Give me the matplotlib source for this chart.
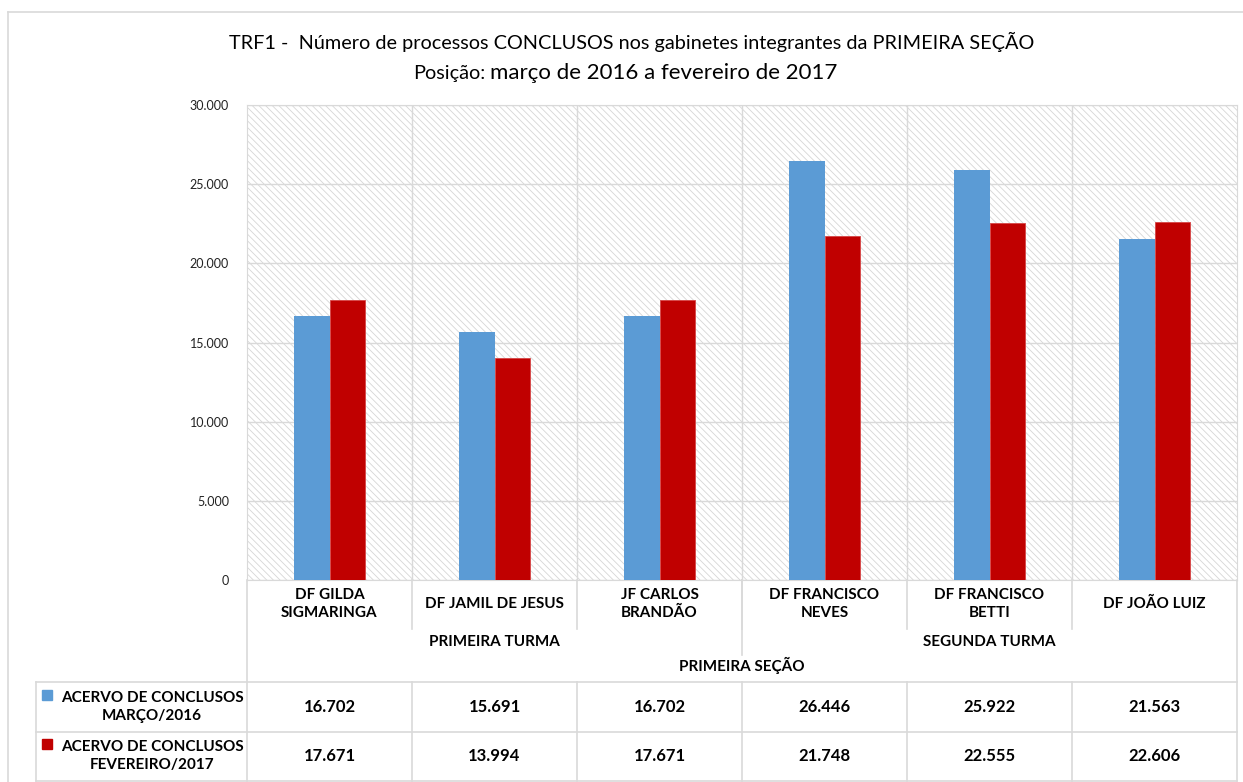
import numpy as np
import matplotlib
matplotlib.use("Agg")
import matplotlib.pyplot as plt
from matplotlib.patches import Rectangle
from matplotlib.lines import Line2D
from matplotlib.ticker import FuncFormatter

plt.rcParams['font.family'] = ['Lato', 'DejaVu Sans']
plt.rcParams['hatch.linewidth'] = 0.6
plt.rcParams['hatch.color'] = '#D6D6D6'

# dados
gabinetes = ["DF GILDA\nSIGMARINGA", "DF JAMIL DE JESUS", "JF CARLOS\nBRANDÃO",
             "DF FRANCISCO\nNEVES", "DF FRANCISCO\nBETTI", "DF JOÃO LUIZ"]
turmas = ["PRIMEIRA TURMA", "SEGUNDA TURMA"]
gabinetes_por_turma = [3, 3]
secao = "PRIMEIRA SEÇÃO"
serie_marco = "ACERVO DE CONCLUSOS\nMARÇO/2016"
serie_fev = "ACERVO DE CONCLUSOS\nFEVEREIRO/2017"
marco_2016 = [16702, 15691, 16702, 26446, 25922, 21563]
fev_2017 = [17671, 13994, 17671, 21748, 22555, 22606]

AZUL = '#5B9BD5'
VERMELHO = '#C00000'
CINZA = '#D9D9D9'

W, H = 1243, 782
fig = plt.figure(figsize=(W / 100, H / 100), dpi=100)

# area do grafico em pixels
x0, x1, ytop, ybase = 247, 1237, 105, 580
ax = fig.add_axes([x0 / W, 1 - ybase / H, (x1 - x0) / W, (ybase - ytop) / H])

def ya(py):
    # pixel vertical -> fracao do eixo
    return (ybase - py) / (ybase - ytop)

def fmt(v, pos=None):
    return f"{int(v):,}".replace(',', '.')

n = len(gabinetes)
x = np.arange(n)
larg = 0.215

ax.add_patch(Rectangle((0, 0), 1, 1, transform=ax.transAxes, facecolor='white',
                       edgecolor='#D6D6D6', linewidth=0, hatch='\\\\\\\\\\', zorder=0))
ax.bar(x - larg / 2, marco_2016, larg, color=AZUL, zorder=3)
ax.bar(x + larg / 2, fev_2017, larg, color=VERMELHO, edgecolor='#D64545',
       linewidth=0.6, zorder=3)

ax.set_xlim(-0.5, n - 0.5)
ax.set_ylim(0, 30000)
ax.set_yticks(np.arange(0, 30001, 5000))
ax.yaxis.set_major_formatter(FuncFormatter(fmt))
ax.tick_params(axis='y', length=0, pad=13, labelsize=9, labelcolor='#222222')
ax.set_xticks([])
ax.grid(axis='y', color=CINZA, linewidth=1, zorder=1)
ax.set_axisbelow(True)
for s in ax.spines.values():
    s.set_color(CINZA)
for i in range(1, n):
    ax.axvline(i - 0.5, color=CINZA, linewidth=1, zorder=1)

tr = ax.get_xaxis_transform()

def linha(xs, ys):
    ax.add_line(Line2D(xs, ys, transform=tr, color=CINZA, linewidth=1.2, clip_on=False))

# eixo de categorias em varios niveis
esq_tab = -0.5 - (x0 - 36) / 165
linha([-0.5, -0.5], [ya(580), ya(781)])
linha([n - 0.5, n - 0.5], [ya(580), ya(781)])
for i in range(1, n):
    linha([i - 0.5, i - 0.5], [ya(580), ya(629)])
for i, nome in enumerate(gabinetes):
    ax.text(i, ya(604), nome, transform=tr, ha='center', va='center',
            fontsize=11, fontweight='bold', linespacing=1.4)

ini = 0
for t, k in zip(turmas, gabinetes_por_turma):
    ax.text(ini + (k - 1) / 2, ya(642), t, transform=tr, ha='center', va='center',
            fontsize=11, fontweight='bold')
    ini += k
    if ini < n:
        linha([ini - 0.5, ini - 0.5], [ya(580), ya(655)])
ax.text((n - 1) / 2, ya(665), secao, transform=tr, ha='center', va='center',
        fontsize=11, fontweight='bold')

# tabela de dados
for py in (682, 732, 781):
    linha([esq_tab, n - 0.5], [ya(py), ya(py)])
linha([esq_tab, esq_tab], [ya(682), ya(781)])
for i in range(1, n):
    linha([i - 0.5, i - 0.5], [ya(682), ya(781)])

for py, nome, vals, cor in ((707, serie_marco, marco_2016, AZUL),
                            (756, serie_fev, fev_2017, VERMELHO)):
    for i, v in enumerate(vals):
        ax.text(i, ya(py), fmt(v), transform=tr, ha='center', va='center',
                fontsize=12, fontweight='bold')
    ax.text(-0.5 - (x0 - 152) / 165, ya(py), nome, transform=tr, ha='center',
            va='center', fontsize=11, fontweight='bold', linespacing=1.35)
    fig.patches.append(Rectangle((42 / W, 1 - (py - 7) / H), 10 / W, 10 / H,
                                 transform=fig.transFigure, color=cor))

# moldura do grafico
fig.add_artist(Line2D([8 / W, 8 / W], [0, 1 - 12 / H], transform=fig.transFigure,
                      color=CINZA, linewidth=1.2))
fig.add_artist(Line2D([8 / W, 1], [1 - 12 / H, 1 - 12 / H], transform=fig.transFigure,
                      color=CINZA, linewidth=1.2))

# titulo
fig.text(632 / W, 1 - 42 / H,
         "TRF1 -  Número de processos CONCLUSOS nos gabinetes integrantes da PRIMEIRA SEÇÃO",
         ha='center', va='center', fontsize=14.3)
fig.text(485 / W, 1 - 79 / H, "Posição:", ha='right', va='baseline', fontsize=14.3)
fig.text(490 / W, 1 - 79 / H, "março de 2016 a fevereiro de 2017", ha='left',
         va='baseline', fontsize=16)

fig.savefig("out.png", dpi=100)
